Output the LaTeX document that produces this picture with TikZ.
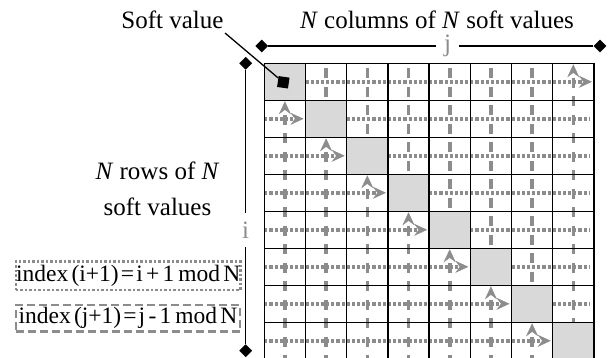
\documentclass[tikz,border=0pt]{standalone}
\usepackage{fontspec}
\setmainfont{Liberation Serif}
\usetikzlibrary{shapes.geometric,arrows.meta}
\definecolor{lgray}{RGB}{140,140,140}
\definecolor{shadecol}{RGB}{217,217,217}
\begin{document}
\begin{tikzpicture}[x=1pt,y=-1pt,
  font=\fontsize{25}{36}\selectfont,
  cellbox/.style={minimum width=41.2pt,minimum height=37pt,inner sep=0pt,outer sep=0pt,fill=white},
  shadebox/.style={cellbox,fill=shadecol},
  gridline/.style={black,line width=1.5pt},
  dotline/.style={lgray,line width=3.6pt,dash pattern=on 3.15pt off 2pt},
  dashline/.style={lgray,line width=3.6pt,dash pattern=on 10pt off 8.5pt,dash phase=13.5pt},
  tipend/.style={-{Stealth[length=13pt,width=12pt,inset=4.5pt,line width=0.4pt]}},
  tipstart/.style={{Stealth[length=13pt,width=12pt,inset=4.5pt,line width=0.4pt]}-},
  diam/.style={diamond,fill=black,inner sep=0pt,minimum width=13pt,minimum height=13pt},
  dimline/.style={black,line width=1.4pt},
  idxlbl/.style={text=lgray,inner sep=0pt},
  boxfont/.style={font=\fontsize{23.5}{30}\selectfont},
  dotbox/.style={boxfont,draw=lgray,line width=2.8pt,dash pattern=on 2.5pt off 2pt,inner sep=0pt},
  dashbox/.style={boxfont,draw=lgray,line width=2.8pt,dash pattern=on 8pt off 4pt,inner sep=0pt}
]
\useasboundingbox (0,0) rectangle (612,358);

% cells
\foreach \r in {0,...,7}{
  \foreach \c in {0,...,7}{
    \ifnum\r=\c
      \node[shadebox] (c-\r-\c) at ({264.3+41.2*(\c+0.5)},{63.3+37*(\r+0.5)}) {};
    \else
      \node[cellbox] (c-\r-\c) at ({264.3+41.2*(\c+0.5)},{63.3+37*(\r+0.5)}) {};
    \fi
  }
}

% horizontal dotted lines (rows)
\draw[dotline,tipend,shorten >=2pt] (c-0-1.west) -- (c-0-7.east);
\foreach \r in {1,...,7}{
  \pgfmathtruncatemacro{\pr}{\r-1}
  \draw[dotline,tipend,shorten >=2pt] (c-\r-0.west) -- (c-\r-\pr.east);
}
\foreach \r in {1,...,6}{
  \pgfmathtruncatemacro{\nr}{\r+1}
  \draw[dotline,shorten >=5pt] (c-\r-\nr.west) -- (c-\r-7.east);
}

% vertical dashed lines (columns)
\draw[dashline,tipstart,shorten <=1pt] (c-0-7.north) -- (c-6-7.south);
\foreach \c in {0,...,6}{
  \pgfmathtruncatemacro{\nc}{\c+1}
  \draw[dashline,tipstart,shorten <=1pt] (c-\nc-\c.north) -- (c-7-\c.south);
}
\foreach \c in {1,...,6}{
  \pgfmathtruncatemacro{\pc}{\c-1}
  \draw[dashline] (c-0-\c.north) -- (c-\pc-\c.south);
}

% grid lines on top
\foreach \r in {0,...,7}{
  \foreach \c in {0,...,7}{
    \draw[gridline] (c-\r-\c.north west) rectangle (c-\r-\c.south east);
  }
}

% soft value marker
\node[fill=black,minimum size=11pt,inner sep=0pt,rotate=-8] (sq) at (283.3,82.3) {};
\node[anchor=base] (svt) at (172.5,28.5) {Soft value};
\coordinate (svl) at (225,33);
\draw[black,line width=1.3pt] (svl) -- (sq);

% column dimension
\node[anchor=base] (ct) at (437,28.5) {\textit{N} columns of \textit{N} soft values};
\node[diam] (dl) at (261.7,46) {};
\node[diam] (dr) at (600,46) {};
\node[idxlbl,minimum width=22pt] (jl) at (447.5,46) {j};
\draw[dimline] (dl) -- (dl -| jl.west);
\draw[dimline] (dl -| jl.east) -- (dr);

% row dimension
\node[anchor=base] (rt1) at (157.5,179) {\textit{N} rows of \textit{N}};
\node[anchor=base] (rt2) at (157.5,215) {soft values};
\node[diam] (dt) at (245.7,63.3) {};
\node[diam] (db) at (245.7,350.7) {};
\node[idxlbl,minimum height=34pt] (il) at (245.7,230) {i};
\draw[dimline] (dt) -- (dt |- il.north);
\draw[dimline] (dt |- il.south) -- (db);

% index boxes
\node[dotbox,minimum width=224.7pt,minimum height=28.3pt] (ib) at (128.3,275.8) {index\hspace{0.14em}(i+1)\hspace{0.09em}=\hspace{0.09em}i\hspace{0.14em}+\hspace{0.14em}1\hspace{0.17em}mod\hspace{0.14em}N};
\node[dashbox,minimum width=224pt,minimum height=26.7pt] (jb) at (128,318.3) {index\hspace{0.14em}(j+1)\hspace{0.09em}=\hspace{0.09em}j\hspace{0.14em}-\hspace{0.14em}1\hspace{0.17em}mod\hspace{0.14em}N};
\end{tikzpicture}
\end{document}
